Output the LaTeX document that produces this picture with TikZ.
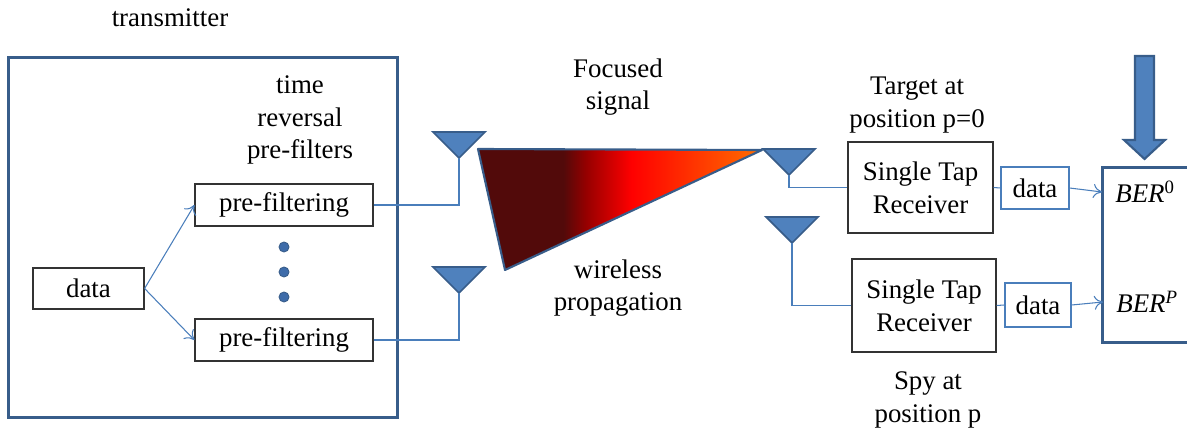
\documentclass[tikz,border=0pt]{standalone}
\usepackage{fontspec}
\setmainfont{Liberation Serif}
\usetikzlibrary{arrows.meta}
\definecolor{wireblue}{RGB}{74,126,187}
\definecolor{frameblue}{RGB}{56,93,138}
\definecolor{antfill}{RGB}{79,129,189}
\definecolor{dotblue}{RGB}{62,108,170}
\definecolor{sigdark}{RGB}{82,10,10}
\definecolor{sigmid}{RGB}{150,0,0}
\definecolor{sigred}{RGB}{255,0,0}
\definecolor{sigorange}{RGB}{255,110,0}
% beam colouring: dark near the transmitter, bright at the focus point
\pgfdeclarehorizontalshading{focus}{100bp}{color(0bp)=(sigdark); color(40bp)=(sigdark); color(44bp)=(sigmid); color(52bp)=(sigred); color(75bp)=(sigorange); color(100bp)=(sigorange)}
\tikzset{
  blk/.style={draw=black!80, line width=0.7pt, inner sep=0pt, align=center},
  dbox/.style={draw=wireblue, line width=0.7pt, inner sep=0pt},
  wire/.style={draw=wireblue, line width=0.6pt},
  arr/.style={wire, -{To[length=5pt,width=8pt]}},
  frame/.style={draw=frameblue, line width=1.7pt},
  lbl/.style={align=center, inner sep=0pt},
  dot/.style={circle, fill=dotblue, draw=frameblue, line width=0.5pt, minimum size=0.2cm, inner sep=0pt},
  antenna/.pic={
    \filldraw[fill=antfill, draw=frameblue, line width=1pt] (-26,-26) -- (26,-26) -- (0,0) -- cycle;
    \coordinate (-tip) at (0,0);
  }
}
\begin{document}
\begin{tikzpicture}[x=0.02cm, y=-0.02cm, font=\fontsize{15.3}{18.6}\selectfont]
\useasboundingbox (0,0) rectangle (1187,432);
\clip (0,0) rectangle (1187,432);

% transmitter
\node[lbl] (txlabel) at (170,18) {transmitter};
\node[frame, minimum width=7.8cm, minimum height=7.22cm] (tx) at (203,237.5) {};
\node[lbl] (trlabel) at (300,120) {time\\reversal\\pre-filters};
\node[blk, minimum width=2.22cm, minimum height=0.82cm] (data) at (88.5,288.5) {data};
\node[blk, minimum width=3.56cm, minimum height=0.84cm] (pf1) at (284,205) {pre-filtering};
\node[blk, minimum width=3.56cm, minimum height=0.84cm] (pf2) at (284,340) {pre-filtering};
\node[dot] (dot1) at (284,247) {};
\node[dot] (dot2) at (284,272) {};
\node[dot] (dot3) at (284,297) {};
\draw[arr] (data.east) -- (pf1.west);
\draw[arr] (data.east) -- (pf2.west);

% transmit antennas
\pic (a1) at (459,158) {antenna};
\pic (a2) at (459,293) {antenna};
\draw[wire] (pf1.east) -| (a1-tip);
\draw[wire] (pf2.east) -| (a2-tip);

% focused beam
\shadedraw[shading=focus, draw=frameblue, line width=1.2pt, line join=round] (478,149) -- (762,150) -- (505,270) -- cycle;
\node[lbl] (foc) at (618,87) {Focused\\signal};
\node[lbl] (wl) at (618,288) {wireless\\propagation};

% receivers
\pic (a3) at (789,175) {antenna};
\pic (a4) at (792,243) {antenna};
\node[lbl] (tgt) at (917,105) {Target at\\position p=0};
\node[lbl] (spy) at (928,400) {Spy at\\position p};
\node[blk, minimum width=2.9cm, minimum height=1.82cm] (str1) at (920.5,187.5) {Single Tap\\Receiver};
\node[blk, minimum width=2.88cm, minimum height=1.86cm] (str2) at (924,305.5) {Single Tap\\Receiver};
\node[dbox, minimum width=1.36cm, minimum height=0.84cm] (d1) at (1035,188) {data};
\node[dbox, minimum width=1.32cm, minimum height=0.88cm] (d2) at (1038,305) {data};
\draw[wire] (a3-tip) |- (str1.west);
\draw[wire] (a4-tip) |- (str2.west);
\draw[wire] (str1.east) -- (d1.west);
\draw[wire] (str2.east) -- (d2.west);

% error-rate block
\node[frame, minimum width=1.96cm, minimum height=3.52cm] (ber) at (1151,255) {};
\node[anchor=base west, inner sep=0pt] (ber0) at (1115,203) {\textit{BER}\textsuperscript{0}};
\node[anchor=base west, inner sep=0pt] (berp) at (1116,313) {\textit{BER}\textsuperscript{\textit{P}}};
\coordinate (in0) at (1102,192);
\coordinate (inp) at (1103,302);
\draw[arr] (d1.east) -- (in0);
\draw[arr] (d2.east) -- (inp);

% incoming block arrow
\filldraw[fill=antfill, draw=frameblue, line width=1.2pt, line join=miter]
  (1135,56) -- (1154,56) -- (1154,140) -- (1165,140) -- (1144.5,159) -- (1124,140) -- (1135,140) -- cycle;
\end{tikzpicture}
\end{document}
